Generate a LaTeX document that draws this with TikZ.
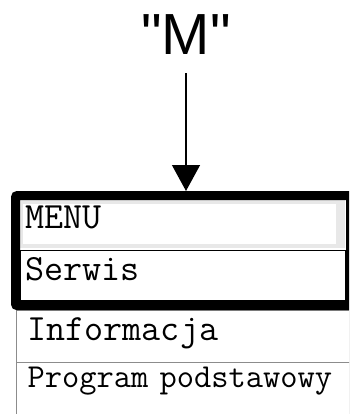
\documentclass[tikz,border=0pt]{standalone}
\usepackage{fontspec}
\newfontfamily\keyfont{Liberation Sans}
\usepackage{tikz}
\usetikzlibrary{arrows.meta, positioning, fit}
\definecolor{framegray}{HTML}{E8E8E8}
\definecolor{rulegray}{HTML}{8C8C8C}

\begin{document}
\begin{tikzpicture}[x=1pt, y=-1pt,
    % Key label above the menu: large sans serif with straight quotes.
    keylabel/.style={inner sep=0pt, anchor=base,
                     font=\fontsize{58}{58}\selectfont\keyfont},
    % Menu entries: plain rectangles with typewriter text, baseline set
    % through text height / text depth.
    cell/.style={rectangle, anchor=north west, inner ysep=0pt,
                 inner xsep=5pt, align=left,
                 font=\fontsize{37}{37}\selectfont\ttfamily},
    % Highlighted title entry: light grey frame round a white field.
    menucell/.style={cell, fill=framegray,
                     path picture={\fill[white]
                       ([shift={(3pt,-4pt)}]path picture bounding box.north west)
                       rectangle
                       ([shift={(-9pt,4pt)}]path picture bounding box.south east);}},
    % Entry inside the thick frame.
    selcell/.style={cell, draw=black, line width=1.2pt},
    % Entries below the frame: thin grey rules.
    listcell/.style={cell, draw=rulegray, line width=1.2pt, inner xsep=11pt},
    % Thick black frame round the visible part of the menu.
    menuframe/.style={rectangle, draw=black, line width=9pt,
                      rounded corners=2pt, inner sep=4.5pt},
    % Key press arrow.
    press/.style={-{Triangle[length=26pt, width=28pt]}, line width=1.3pt}
]
    \useasboundingbox (0,0) rectangle (349,414);
    \clip (0,0) rectangle (349,414);

    % === Key ===
    \node[keylabel] (key) at (186,55) {"M"};

    % === Menu entries in the frame ===
    \node[menucell, text width=315pt, text height=28pt, text depth=20pt]
        (menu) at (20,200) {MENU};
    \node[selcell, text width=315pt, text height=30pt, text depth=20pt]
        (serwis) at (20,250) {Serwis};

    % === Further entries ===
    \node[listcell, text width=311pt, text height=30pt, text depth=22pt]
        (info) at (16,310) {Informacja};
    \node[listcell, text width=311pt, text height=25pt, text depth=29pt,
          font=\fontsize{33.5}{33.5}\selectfont\ttfamily]
        (prog) at (16,362) {Program podstawowy};

    % === Frame ===
    \node[menuframe, fit=(menu)(serwis)] (frame) {};

    % === Key press ===
    \draw[press] ([yshift=-18pt]key.south) -- (key.south |- frame.north);

\end{tikzpicture}
\end{document}
